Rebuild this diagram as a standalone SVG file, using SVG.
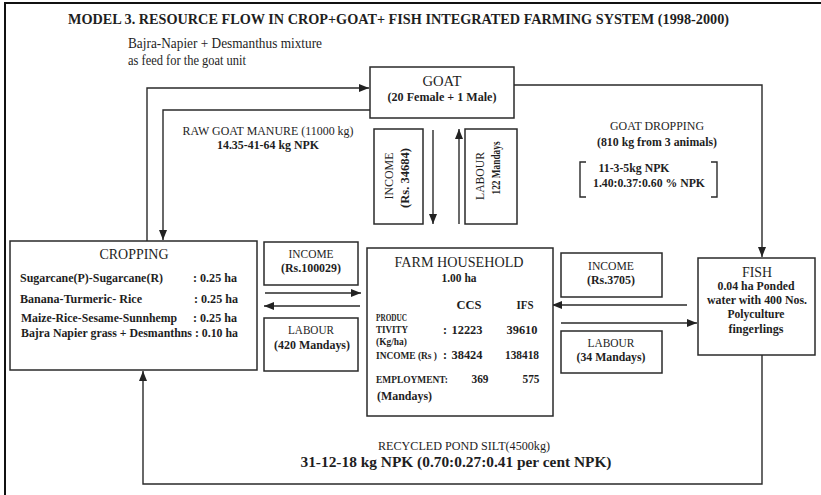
<svg xmlns="http://www.w3.org/2000/svg" width="821" height="495" viewBox="0 0 821 495">
  <defs>
    <marker id="arrow" viewBox="0 0 10 8" refX="10" refY="4" markerWidth="10" markerHeight="8" markerUnits="userSpaceOnUse" orient="auto">
      <path d="M0,0 L10,4 L0,8 z" fill="#222"/>
    </marker>
    <style>
      text { font-family: "Liberation Serif", "Times New Roman", serif; fill: #1e1e1e; }
      .title { font-size: 14px; font-weight: bold; }
      .head { font-size: 15px; }
      .lab { font-size: 12.5px; }
      .note { font-size: 14px; }
      .b { font-size: 12px; font-weight: bold; }
      .sm { font-size: 9.5px; font-weight: bold; }
      .big { font-size: 15px; font-weight: bold; }
      .box { fill: #fff; stroke: #2a2a2a; stroke-width: 1.5; }
      .wire { fill: none; stroke: #2a2a2a; stroke-width: 1.4; }
      .c { text-anchor: middle; }
    </style>
  </defs>

  <rect width="821" height="495" fill="#fff"/>
  <!-- page frame -->
  <path d="M5,495 V3 H821" fill="none" stroke="#111" stroke-width="2"/>

  <text class="title" x="68" y="24" textLength="661" lengthAdjust="spacingAndGlyphs">MODEL 3. RESOURCE FLOW IN CROP+GOAT+ FISH  INTEGRATED FARMING SYSTEM (1998-2000)</text>

  <text class="note" x="128" y="48" textLength="194" lengthAdjust="spacingAndGlyphs">Bajra-Napier + Desmanthus mixture</text>
  <text class="note" x="128" y="65" textLength="118" lengthAdjust="spacingAndGlyphs">as feed for the goat unit</text>

  <!-- connectors -->
  <g id="connectors">
    <path class="wire" d="M147,241 V88 H369" marker-end="url(#arrow)"/>
    <path class="wire" d="M370,110 H163 V240" marker-end="url(#arrow)"/>
    <path class="wire" d="M514,85 H762 V257" marker-end="url(#arrow)"/>
    <line class="wire" x1="433" y1="130" x2="433" y2="224" marker-end="url(#arrow)"/>
    <line class="wire" x1="459" y1="224" x2="459" y2="129" marker-end="url(#arrow)"/>
    <line class="wire" x1="265" y1="293" x2="361" y2="293" marker-end="url(#arrow)"/>
    <line class="wire" x1="360" y1="306" x2="264" y2="306" marker-end="url(#arrow)"/>
    <line class="wire" x1="687" y1="305" x2="552" y2="305" marker-end="url(#arrow)"/>
    <line class="wire" x1="561" y1="323" x2="697" y2="323" marker-end="url(#arrow)"/>
    <path class="wire" d="M762,355 V484 H143 V371" marker-end="url(#arrow)"/>
  </g>

  <!-- flow labels -->
  <g id="manure-label">
    <text class="lab c" x="268" y="135" textLength="171" lengthAdjust="spacingAndGlyphs">RAW GOAT MANURE (11000 kg)</text>
    <text class="b c" x="268" y="149" textLength="102" lengthAdjust="spacingAndGlyphs">14.35-41-64 kg NPK</text>
  </g>
  <g id="dropping-label">
    <text class="lab c" x="657" y="130" textLength="94" lengthAdjust="spacingAndGlyphs">GOAT DROPPING</text>
    <text class="b c" x="657" y="146" textLength="120" lengthAdjust="spacingAndGlyphs">(810 kg from 3 animals)</text>
    <path class="wire" d="M586,162 H580 V197 H586 M711,162 H717 V197 H711" stroke-width="1.3"/>
    <text class="b c" x="634" y="172" textLength="71" lengthAdjust="spacingAndGlyphs">11-3-5kg NPK</text>
    <text class="b c" x="649" y="187" textLength="112" lengthAdjust="spacingAndGlyphs">1.40:0.37:0.60 % NPK</text>
  </g>
  <g id="silt-label">
    <text class="lab c" x="464" y="450" textLength="172" lengthAdjust="spacingAndGlyphs">RECYCLED POND SILT(4500kg)</text>
    <text class="big c" x="456" y="467" textLength="311" lengthAdjust="spacingAndGlyphs">31-12-18 kg NPK (0.70:0.27:0.41 per cent NPK)</text>
  </g>

  <!-- goat unit -->
  <g id="goat">
    <rect class="box" x="370" y="67" width="144" height="51"/>
    <text class="head c" x="442" y="86" textLength="39" lengthAdjust="spacingAndGlyphs">GOAT</text>
    <text class="b c" x="442" y="101" textLength="109" lengthAdjust="spacingAndGlyphs">(20 Female + 1 Male)</text>
  </g>

  <g id="goat-income">
    <rect class="box" x="374" y="129" width="49" height="95"/>
    <text class="lab c" transform="translate(393,176) rotate(-90)" textLength="47" lengthAdjust="spacingAndGlyphs">INCOME</text>
    <text class="b c" transform="translate(409,178) rotate(-90)" textLength="60" lengthAdjust="spacingAndGlyphs">(Rs. 34684)</text>
  </g>

  <g id="goat-labour">
    <rect class="box" x="465" y="129" width="52" height="95"/>
    <text class="lab c" transform="translate(484,176) rotate(-90)" textLength="48" lengthAdjust="spacingAndGlyphs">LABOUR</text>
    <text class="b c" transform="translate(500,168) rotate(-90)" textLength="53" lengthAdjust="spacingAndGlyphs">122 Mandays</text>
  </g>

  <!-- cropping unit -->
  <g id="cropping">
    <rect class="box" x="10" y="241" width="247" height="129"/>
    <text class="head c" x="134" y="259" textLength="69" lengthAdjust="spacingAndGlyphs">CROPPING</text>
    <text class="b" x="20" y="282" textLength="143" lengthAdjust="spacingAndGlyphs">Sugarcane(P)-Sugarcane(R)</text>
    <text class="b" x="193" y="282" textLength="44" lengthAdjust="spacingAndGlyphs">: 0.25 ha</text>
    <text class="b" x="20" y="303" textLength="122" lengthAdjust="spacingAndGlyphs">Banana-Turmeric- Rice</text>
    <text class="b" x="194" y="303" textLength="44" lengthAdjust="spacingAndGlyphs">: 0.25 ha</text>
    <text class="b" x="21" y="322" textLength="156" lengthAdjust="spacingAndGlyphs">Maize-Rice-Sesame-Sunnhemp</text>
    <text class="b" x="193" y="322" textLength="44" lengthAdjust="spacingAndGlyphs">: 0.25 ha</text>
    <text class="b" x="21" y="337" textLength="217" lengthAdjust="spacingAndGlyphs">Bajra Napier grass + Desmanthns : 0.10 ha</text>
  </g>

  <g id="crop-income">
    <rect class="box" x="264" y="242" width="94" height="43"/>
    <text class="lab c" x="311" y="258" textLength="45" lengthAdjust="spacingAndGlyphs">INCOME</text>
    <text class="b c" x="311" y="272" textLength="60" lengthAdjust="spacingAndGlyphs">(Rs.100029)</text>
  </g>

  <g id="crop-labour">
    <rect class="box" x="264" y="318" width="94" height="53"/>
    <text class="lab c" x="311" y="334" textLength="46" lengthAdjust="spacingAndGlyphs">LABOUR</text>
    <text class="b c" x="312" y="349" textLength="76" lengthAdjust="spacingAndGlyphs">(420 Mandays)</text>
  </g>

  <!-- farm household -->
  <g id="household">
    <rect class="box" x="367" y="248" width="186" height="168"/>
    <text class="head c" x="459" y="267" textLength="129" lengthAdjust="spacingAndGlyphs">FARM HOUSEHOLD</text>
    <text class="b c" x="459" y="282" textLength="35" lengthAdjust="spacingAndGlyphs">1.00 ha</text>
    <text class="b c" x="469" y="309" textLength="25" lengthAdjust="spacingAndGlyphs">CCS</text>
    <text class="b c" x="525" y="309" textLength="17" lengthAdjust="spacingAndGlyphs">IFS</text>
    <text class="sm" x="376" y="321" textLength="31" lengthAdjust="spacingAndGlyphs">PRODUC</text>
    <text class="sm" x="376" y="333" textLength="32" lengthAdjust="spacingAndGlyphs">TIVITY</text>
    <text class="b" x="443" y="334">:</text>
    <text class="b c" x="467" y="334" textLength="31" lengthAdjust="spacingAndGlyphs">12223</text>
    <text class="b c" x="522" y="334" textLength="31" lengthAdjust="spacingAndGlyphs">39610</text>
    <text class="sm" x="376" y="345" textLength="31" lengthAdjust="spacingAndGlyphs">(Kg/ha)</text>
    <text class="sm" x="376" y="359" textLength="61" lengthAdjust="spacingAndGlyphs">INCOME (Rs )</text>
    <text class="b" x="443" y="359">:</text>
    <text class="b c" x="467" y="359" textLength="31" lengthAdjust="spacingAndGlyphs">38424</text>
    <text class="b c" x="522" y="359" textLength="34" lengthAdjust="spacingAndGlyphs">138418</text>
    <text class="sm" x="376" y="383" textLength="72" lengthAdjust="spacingAndGlyphs">EMPLOYMENT:</text>
    <text class="b c" x="480" y="383" textLength="17" lengthAdjust="spacingAndGlyphs">369</text>
    <text class="b c" x="531" y="383" textLength="17" lengthAdjust="spacingAndGlyphs">575</text>
    <text class="b" x="377" y="400" textLength="55" lengthAdjust="spacingAndGlyphs">(Mandays)</text>
  </g>

  <g id="fish-income">
    <rect class="box" x="561" y="253" width="101" height="44"/>
    <text class="lab c" x="611" y="270" textLength="46" lengthAdjust="spacingAndGlyphs">INCOME</text>
    <text class="b c" x="611" y="284" textLength="48" lengthAdjust="spacingAndGlyphs">(Rs.3705)</text>
  </g>

  <g id="fish-labour">
    <rect class="box" x="561" y="331" width="101" height="42"/>
    <text class="lab c" x="611" y="347" textLength="47" lengthAdjust="spacingAndGlyphs">LABOUR</text>
    <text class="b c" x="611" y="361" textLength="69" lengthAdjust="spacingAndGlyphs">(34 Mandays)</text>
  </g>

  <!-- fish pond -->
  <g id="fish">
    <rect class="box" x="698" y="258" width="117" height="97"/>
    <text class="head c" x="757" y="277" textLength="30" lengthAdjust="spacingAndGlyphs">FISH</text>
    <text class="b c" x="756" y="290" textLength="77" lengthAdjust="spacingAndGlyphs">0.04 ha Ponded</text>
    <text class="b c" x="757" y="304" textLength="100" lengthAdjust="spacingAndGlyphs">water with 400 Nos.</text>
    <text class="b c" x="756" y="318" textLength="57" lengthAdjust="spacingAndGlyphs">Polyculture</text>
    <text class="b c" x="756" y="333" textLength="55" lengthAdjust="spacingAndGlyphs">fingerlings</text>
  </g>
</svg>
